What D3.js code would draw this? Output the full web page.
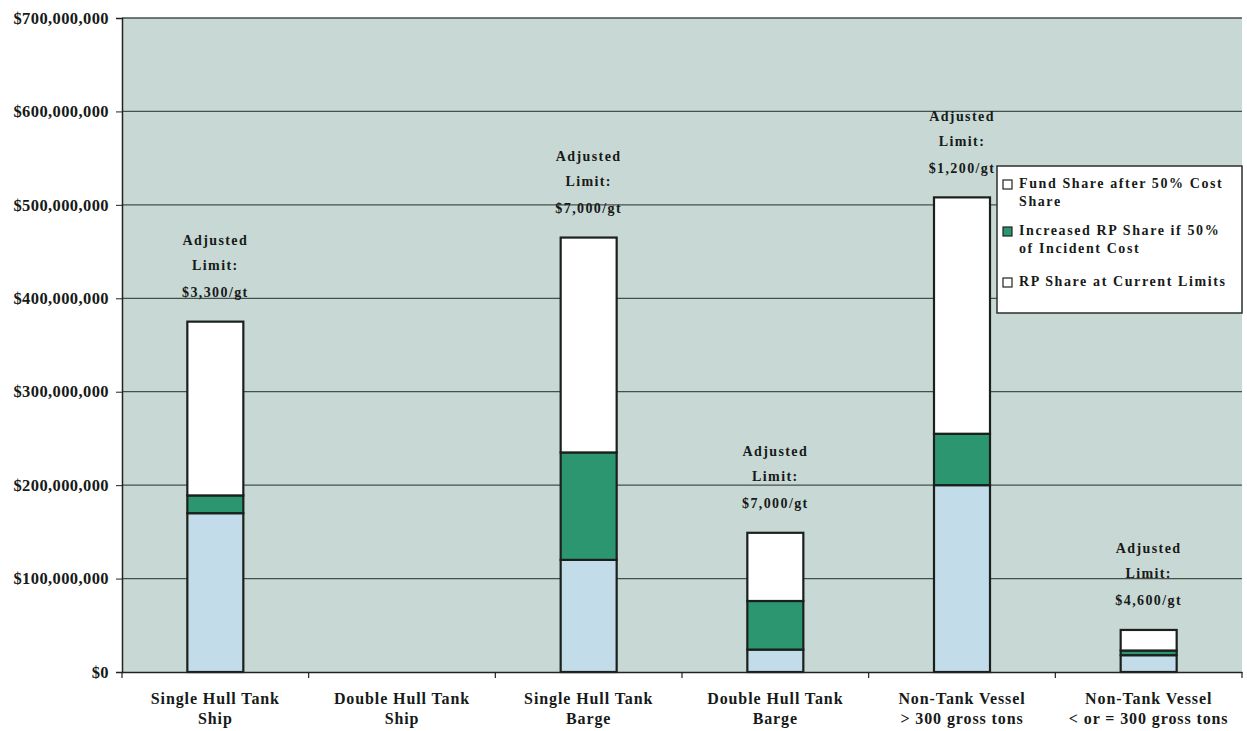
<!DOCTYPE html>
<html>
<head>
<meta charset="utf-8">
<script src="https://cdn.jsdelivr.net/npm/d3@7"></script>
<style>
  body { margin: 0; background: #fff; }
  text { font-family: "Liberation Serif", "Times New Roman", serif; font-weight: bold; fill: #161a18; }
</style>
</head>
<body>
<svg id="chart"></svg>
<script>
var width = 1247;
var height = 731;

// categories, two lines each
var catLine1 = ["Single Hull Tank", "Double Hull Tank", "Single Hull Tank", "Double Hull Tank", "Non-Tank Vessel", "Non-Tank Vessel"];
var catLine2 = ["Ship", "Ship", "Barge", "Barge", "> 300 gross tons", "< or = 300 gross tons"];

// series values (dollars)
var rpCurrent  = [170000000, 0, 120000000, 24000000, 200000000, 18000000];
var rpIncrease = [19000000, 0, 115000000, 52000000, 55000000, 5000000];
var fundShare  = [186000000, 0, 230000000, 73000000, 253000000, 22000000];

var limitLabels = ["$3,300/gt", null, "$7,000/gt", "$7,000/gt", "$1,200/gt", "$4,600/gt"];

var legendLines = [["Fund Share after 50% Cost", "Share"], ["Increased RP Share if 50%", "of Incident Cost"], ["RP Share at Current Limits"]];
var yTicks = [0, 100000000, 200000000, 300000000, 400000000, 500000000, 600000000, 700000000];

var colors = { rpCurrent: "#c3dcea", rpIncrease: "#2b9670", fundShare: "#ffffff" };

var margin = { top: 18, right: 5, bottom: 59, left: 122 };
var w = width - margin.left - margin.right;
var h = height - margin.top - margin.bottom;

var svg = d3.select("#chart")
    .attr("width", width)
    .attr("height", height);

var g = svg.append("g")
    .attr("transform", "translate(" + margin.left + "," + margin.top + ")");

var rows = catLine1.map(function (c, i) {
    return { key: i, rpCurrent: rpCurrent[i], rpIncrease: rpIncrease[i], fundShare: fundShare[i] };
});

var x = d3.scaleBand()
    .domain(d3.range(catLine1.length))
    .range([0, w])
    .paddingInner(0.7)
    .paddingOuter(0.35);

var y = d3.scaleLinear()
    .domain([0, 700000000])
    .range([h, 0]);

// plot background
g.append("rect")
    .attr("width", w)
    .attr("height", h)
    .attr("fill", "#c8d8d4");

// gridlines
g.selectAll(".grid")
    .data(yTicks.slice(1))
    .enter().append("line")
    .attr("class", "grid")
    .attr("x1", 0)
    .attr("x2", w)
    .attr("y1", function (d) { return y(d); })
    .attr("y2", function (d) { return y(d); })
    .attr("stroke", "#45504b")
    .attr("stroke-width", 1.3);

// stacked bars
var stack = d3.stack().keys(["rpCurrent", "rpIncrease", "fundShare"]);
var layers = stack(rows);

g.selectAll(".layer")
    .data(layers)
    .enter().append("g")
    .attr("class", "layer")
    .attr("fill", function (d) { return colors[d.key]; })
    .selectAll("rect")
    .data(function (d) { return d.filter(function (p) { return p[1] > p[0]; }); })
    .enter().append("rect")
    .attr("x", function (d) { return x(d.data.key); })
    .attr("width", x.bandwidth())
    .attr("y", function (d) { return y(d[1]); })
    .attr("height", function (d) { return y(d[0]) - y(d[1]); })
    .attr("stroke", "#1a201d")
    .attr("stroke-width", 2.2);

// adjusted limit labels
rows.forEach(function (r, i) {
    if (!limitLabels[i]) return;
    var top = y(r.rpCurrent + r.rpIncrease + r.fundShare);
    var cx = x(i) + x.bandwidth() / 2;
    var lines = ["Adjusted", "Limit:", limitLabels[i]];
    var offs = [-80, -55, -28];
    lines.forEach(function (t, k) {
        g.append("text")
            .attr("x", cx)
            .attr("y", top + offs[k])
            .attr("text-anchor", "middle")
            .attr("dominant-baseline", "middle")
            .style("font-size", "14px")
            .style("letter-spacing", "1.4px")
            .text(t);
    });
});

// y axis
var yAxis = d3.axisLeft(y)
    .tickValues(yTicks)
    .tickSize(6)
    .tickFormat(function (d) { return "$" + d3.format(",")(d); });

var yG = g.append("g").call(yAxis);
yG.select(".domain").attr("stroke", "#222").attr("stroke-width", 1.5);
yG.selectAll(".tick line").attr("stroke", "#222");
yG.selectAll(".tick text")
    .attr("x", -13)
    .style("font-size", "16.5px")
    .style("letter-spacing", "0.4px")
    .style("font-family", "Liberation Serif, serif")
    .style("font-weight", "bold")
    .attr("fill", "#111");

// x axis
var xAxis = d3.axisBottom(x).tickSize(0).tickFormat("");
var xG = g.append("g")
    .attr("transform", "translate(0," + h + ")")
    .call(xAxis);
xG.select(".domain").attr("stroke", "#222").attr("stroke-width", 1.5);

// ticks at category boundaries
g.selectAll(".xtick")
    .data(d3.range(catLine1.length + 1))
    .enter().append("line")
    .attr("class", "xtick")
    .attr("x1", function (d) { return d * x.step(); })
    .attr("x2", function (d) { return d * x.step(); })
    .attr("y1", h)
    .attr("y2", h + 6)
    .attr("stroke", "#222")
    .attr("stroke-width", 1.2);

// category labels
catLine1.forEach(function (c, i) {
    var cx = x(i) + x.bandwidth() / 2;
    g.append("text")
        .attr("x", cx)
        .attr("y", h + 32)
        .attr("text-anchor", "middle")
        .style("font-size", "16px")
        .style("letter-spacing", "0.9px")
        .text(c);
    g.append("text")
        .attr("x", cx)
        .attr("y", h + 52)
        .attr("text-anchor", "middle")
        .style("font-size", "16px")
        .style("letter-spacing", "0.9px")
        .text(catLine2[i]);
});

// legend
var legend = svg.append("g")
    .attr("transform", "translate(997,166)");

legend.append("rect")
    .attr("width", 245)
    .attr("height", 147)
    .attr("fill", "#ffffff")
    .attr("stroke", "#2a302d")
    .attr("stroke-width", 1.5);

var legendColors = [colors.fundShare, colors.rpIncrease, "#ffffff"];
var legendY = [19, 66, 117];

legendLines.forEach(function (ls, i) {
    legend.append("rect")
        .attr("x", 6)
        .attr("y", legendY[i] - 5)
        .attr("width", 9)
        .attr("height", 9)
        .attr("fill", legendColors[i])
        .attr("stroke", "#222")
        .attr("stroke-width", 1.2);
    ls.forEach(function (t, k) {
        legend.append("text")
            .attr("x", 22)
            .attr("y", legendY[i] + k * 18)
            .attr("dominant-baseline", "middle")
            .style("font-size", "14px")
            .style("letter-spacing", "1.6px")
            .text(t);
    });
});
</script>
</body>
</html>
